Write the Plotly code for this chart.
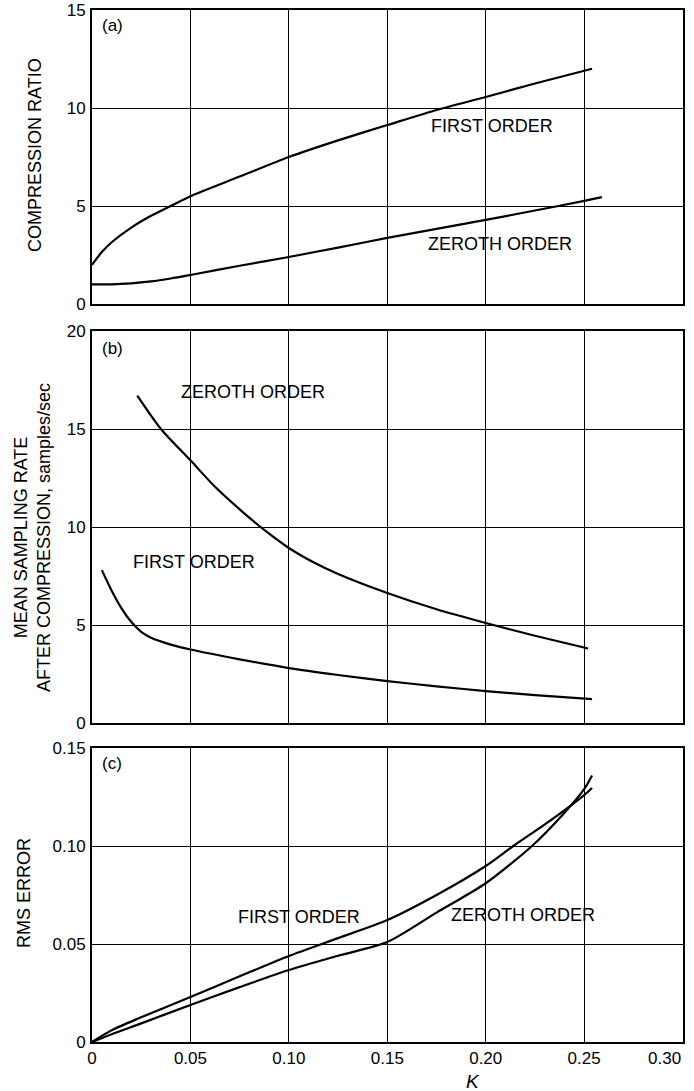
import plotly.graph_objects as go

# ---------------- data ----------------
# (a) compression ratio
k_a_first = [0, 0.005, 0.01, 0.02, 0.03, 0.04, 0.05, 0.075, 0.10, 0.125, 0.15, 0.175, 0.20, 0.225, 0.254]
cr_first = [2.0, 2.65, 3.15, 3.9, 4.5, 5.0, 5.5, 6.5, 7.5, 8.35, 9.13, 9.9, 10.56, 11.25, 12.0]
k_a_zero = [0, 0.01, 0.02, 0.03, 0.04, 0.05, 0.075, 0.10, 0.125, 0.15, 0.175, 0.20, 0.225, 0.25, 0.259]
cr_zero = [1.0, 1.0, 1.05, 1.15, 1.3, 1.48, 1.95, 2.4, 2.88, 3.37, 3.83, 4.29, 4.77, 5.26, 5.45]

# (b) mean sampling rate after compression
k_b_zero = [0.023, 0.035, 0.05, 0.0625, 0.075, 0.0875, 0.10, 0.1125, 0.125, 0.15, 0.175, 0.20, 0.225, 0.252]
sr_zero = [16.7, 15.0, 13.4, 12.05, 10.9, 9.85, 8.93, 8.2, 7.6, 6.63, 5.8, 5.1, 4.45, 3.8]
k_b_first = [0.005, 0.01, 0.015, 0.02, 0.025, 0.03, 0.04, 0.05, 0.075, 0.10, 0.125, 0.15, 0.175, 0.20, 0.225, 0.254]
sr_first = [7.8, 6.75, 5.85, 5.15, 4.65, 4.35, 4.0, 3.75, 3.25, 2.8, 2.45, 2.14, 1.87, 1.63, 1.42, 1.22]

# (c) rms error
k_c_first = [0, 0.01, 0.024, 0.05, 0.075, 0.10, 0.125, 0.15, 0.175, 0.20, 0.214, 0.23, 0.25, 0.254]
rms_first = [0, 0.006, 0.0122, 0.023, 0.0335, 0.0439, 0.053, 0.0622, 0.075, 0.0898, 0.10, 0.111, 0.126, 0.1296]
k_c_zero = [0, 0.01, 0.025, 0.05, 0.075, 0.10, 0.125, 0.15, 0.175, 0.20, 0.2235, 0.24, 0.25, 0.254]
rms_zero = [0, 0.004, 0.0095, 0.0189, 0.028, 0.0367, 0.044, 0.051, 0.066, 0.081, 0.10, 0.117, 0.129, 0.136]

x_tickvals = [0, 0.05, 0.10, 0.15, 0.20, 0.25, 0.30]
x_ticktext = ["0", "0.05", "0.10", "0.15", "0.20", "0.25", "0.30"]
ya_tickvals = [0, 5, 10, 15]
ya_ticktext = ["0", "5", "10", "15"]
yb_tickvals = [0, 5, 10, 15, 20]
yb_ticktext = ["0", "5", "10", "15", "20"]
yc_tickvals = [0, 0.05, 0.10, 0.15]
yc_ticktext = ["0", "0.05", "0.10", "0.15"]

FONT = "Liberation Sans, Arial, Helvetica, sans-serif"
LINE = dict(color="black", width=2.2, shape="spline", smoothing=0.7)

fig = go.Figure()
fig.add_trace(go.Scatter(x=k_a_first, y=cr_first, mode="lines", line=LINE, xaxis="x", yaxis="y"))
fig.add_trace(go.Scatter(x=k_a_zero, y=cr_zero, mode="lines", line=LINE, xaxis="x", yaxis="y"))
fig.add_trace(go.Scatter(x=k_b_zero, y=sr_zero, mode="lines", line=LINE, xaxis="x2", yaxis="y2"))
fig.add_trace(go.Scatter(x=k_b_first, y=sr_first, mode="lines", line=LINE, xaxis="x2", yaxis="y2"))
fig.add_trace(go.Scatter(x=k_c_first, y=rms_first, mode="lines", line=LINE, xaxis="x3", yaxis="y3"))
fig.add_trace(go.Scatter(x=k_c_zero, y=rms_zero, mode="lines", line=LINE, xaxis="x3", yaxis="y3"))

# geometry (pixels): plot left 92, right 683; panels a:10-304, b:331-723, c:748-1042
W, H = 694, 1091
L, R = 92, 683
top, bot = 10, 1042
ph = bot - top


def dom(y0, y1):
    return [(bot - y1) / ph, (bot - y0) / ph]


def px_to_paper(px, py):
    return (px - L) / (R - L), (bot - py) / ph


TICKF = dict(family=FONT, size=17, color="black")
common_x = dict(range=[0, 0.3002], tickvals=x_tickvals, showgrid=True, gridcolor="black", gridwidth=1,
                showline=True, linecolor="black", linewidth=2, mirror=True, ticks="", zeroline=False,
                automargin=False, tickfont=TICKF, fixedrange=True)
common_y = dict(showgrid=True, gridcolor="black", gridwidth=1, showline=True, linecolor="black",
                linewidth=2, mirror=True, ticks="", zeroline=False, ticklabelstandoff=1, automargin=False,
                tickfont=TICKF, fixedrange=True)

# last x label is drawn shifted left (as in the original) so it stays inside the page
x3_ticktext = x_ticktext[:-1] + [""]

fig.update_layout(
    width=W, height=H,
    margin=dict(l=L, r=W - R, t=top, b=H - bot, pad=0, autoexpand=False),
    paper_bgcolor="white", plot_bgcolor="white",
    showlegend=False,
    font=dict(family=FONT, color="black"),
    xaxis=dict(domain=[0, 1], anchor="y", showticklabels=False, **common_x),
    yaxis=dict(domain=dom(10, 304), anchor="x", range=[0, 15], tickvals=ya_tickvals, ticktext=ya_ticktext, **common_y),
    xaxis2=dict(domain=[0, 1], anchor="y2", showticklabels=False, **common_x),
    yaxis2=dict(domain=dom(331, 723), anchor="x2", range=[0, 20], tickvals=yb_tickvals, ticktext=yb_ticktext, **common_y),
    xaxis3=dict(domain=[0, 1], anchor="y3", ticktext=x3_ticktext, ticklabelstandoff=0, **common_x),
    yaxis3=dict(domain=dom(748, 1042), anchor="x3", range=[0, 0.15], tickvals=yc_tickvals, ticktext=yc_ticktext, **common_y),
)

ann = []
lab = dict(family=FONT, size=17, color="black")
# panel letters
ann.append(dict(text="(a)", x=0.004, y=14.2, xref="x", yref="y", xanchor="left", yanchor="middle", showarrow=False, font=lab))
ann.append(dict(text="(b)", x=0.004, y=19.1, xref="x2", yref="y2", xanchor="left", yanchor="middle", showarrow=False, font=lab))
ann.append(dict(text="(c)", x=0.004, y=0.142, xref="x3", yref="y3", xanchor="left", yanchor="middle", showarrow=False, font=lab))
# curve labels
cl = dict(family=FONT, size=18, color="black")
ann.append(dict(text="FIRST ORDER", x=0.203, y=9.1, xref="x", yref="y", showarrow=False, font=cl))
ann.append(dict(text="ZEROTH ORDER", x=0.207, y=3.05, xref="x", yref="y", showarrow=False, font=cl))
ann.append(dict(text="ZEROTH ORDER", x=0.082, y=16.9, xref="x2", yref="y2", showarrow=False, font=cl))
ann.append(dict(text="FIRST ORDER", x=0.052, y=8.2, xref="x2", yref="y2", showarrow=False, font=cl))
ann.append(dict(text="FIRST ORDER", x=0.105, y=0.064, xref="x3", yref="y3", showarrow=False, font=cl))
ann.append(dict(text="ZEROTH ORDER", x=0.219, y=0.065, xref="x3", yref="y3", showarrow=False, font=cl))

# shifted last x tick label
_, ly = px_to_paper(0, 1058)
ann.append(dict(text=x_ticktext[-1], x=x_tickvals[-1], y=ly, xref="x3", yref="paper", xanchor="right",
                yanchor="middle", showarrow=False, font=TICKF))

tf = dict(family=FONT, size=18, color="black")
for text, px, py in [("COMPRESSION RATIO", 35, 155),
                     ("MEAN SAMPLING RATE<br>AFTER COMPRESSION, samples/sec", 32, 538),
                     ("RMS ERROR", 24, 893)]:
    x, y = px_to_paper(px, py)
    ann.append(dict(text=text, x=x, y=y, xref="paper", yref="paper", showarrow=False, textangle=-90,
                    font=tf, xanchor="center", yanchor="middle"))
x, y = px_to_paper(473, 1081)
ann.append(dict(text="<i>K</i>", x=x, y=y, xref="paper", yref="paper", showarrow=False,
                font=dict(family=FONT, size=19, color="black"), xanchor="center", yanchor="middle"))

fig.update_layout(annotations=ann)

fig.write_html("out.html")
